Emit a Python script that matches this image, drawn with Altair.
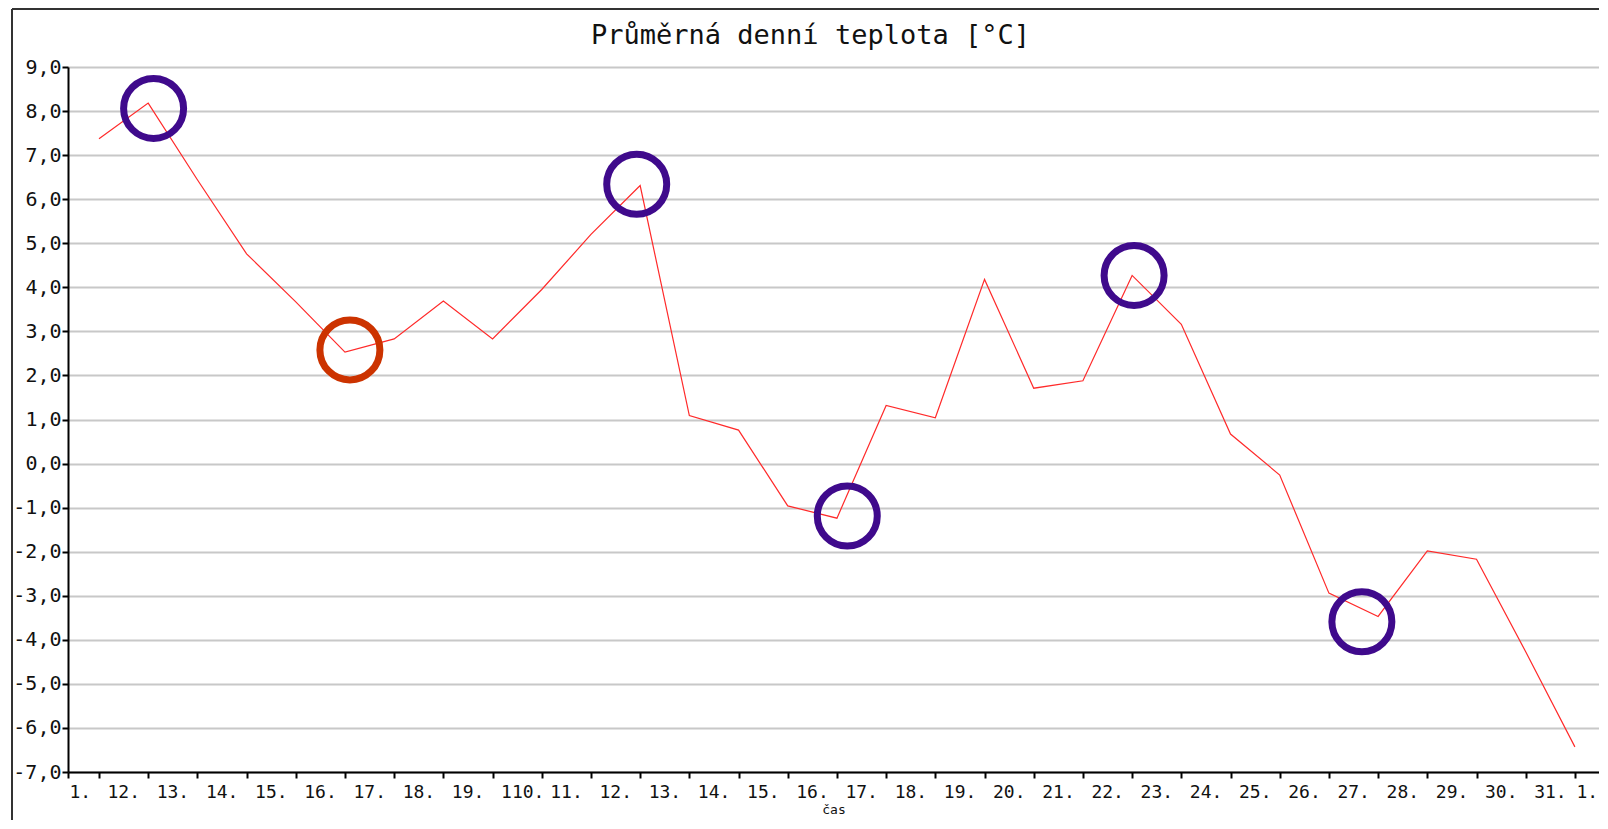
import json
import altair as alt
import pandas as pd

# ---- data ----
days = list(range(1, 32))
temps = [7.37, 8.18, 6.44, 4.76, 3.67, 2.53, 2.83, 3.69, 2.83, 3.95,
         5.20, 6.31, 1.09, 0.76, -0.96, -1.24, 1.32, 1.04, 4.18, 1.71,
         1.88, 4.27, 3.16, 0.67, -0.26, -2.94, -3.47, -1.98, -2.17, -4.27,
         -6.43]

# tick labels as they appear (first one sits at the axis start)
x_label_texts = ["1.", "12.", "13.", "14.", "15.", "16.", "17.", "18.", "19.",
                 "110.", "11.", "12.", "13.", "14.", "15.", "16.", "17.", "18.",
                 "19.", "20.", "21.", "22.", "23.", "24.", "25.", "26.", "27.",
                 "28.", "29.", "30.", "31.", "1."]
y_ticks = list(range(-7, 10))

# hand-drawn annotation circles
circle_days = [2.11, 11.93, 16.21, 22.04, 26.67, 6.10]
circle_vals = [8.06, 6.34, -1.19, 4.27, -3.59, 2.58]
circle_kind = ["fialová", "fialová", "fialová", "fialová", "fialová", "oranžová"]

title_text = "Průměrná denní teplota [°C]"
x_title = "čas"

df = pd.DataFrame({"day": days, "temp": temps})
dc = pd.DataFrame({"day": circle_days, "temp": circle_vals, "kind": circle_kind})

MONO = "DejaVu Sans Mono"
x_start = days[0] - 0.63
x_end = days[-1] + 0.49

xscale = alt.Scale(domain=[x_start, x_end], nice=False, zero=False)
yscale = alt.Scale(domain=[min(y_ticks), max(y_ticks)], nice=False, zero=False)

label_expr = f"{json.dumps(x_label_texts)}[datum.value < 1 ? 0 : datum.value]"

x_axis = alt.Axis(
    values=[x_start] + days,
    labelExpr=label_expr,
    labelFont=MONO, labelFontSize=18, labelColor="#111",
    labelAlign="left", labelBaseline="top", labelPadding=5,
    labelOffset={"condition": {"test": "datum.value < 1 || datum.value > 30",
                               "value": 1}, "value": 8},
    labelOverlap=False, labelFlush=False,
    domainColor="#000", domainWidth=2,
    tickColor="#000", tickWidth=2, tickSize=6,
    grid=False,
    titleFont=MONO, titleFontSize=13, titleFontWeight="normal", titleColor="#111",
    titlePadding=2,
)
y_axis = alt.Axis(
    values=y_ticks,
    labelExpr="(datum.value < 0 ? '-' : '') + replace(format(abs(datum.value), '.1f'), '.', ',')",
    labelFont=MONO, labelFontSize=20, labelColor="#111", labelPadding=1,
    domainColor="#000", domainWidth=2,
    tickColor="#000", tickWidth=2, tickSize=6,
    grid=True, gridColor="#c8c8c8", gridWidth=2,
    title=None,
)

line = alt.Chart(df).mark_line(color="#ff2a2a", strokeWidth=1.2).encode(
    x=alt.X("day:Q", scale=xscale, axis=x_axis, title=x_title),
    y=alt.Y("temp:Q", scale=yscale, axis=y_axis),
)

circles = alt.Chart(dc).mark_point(shape="circle", filled=False, size=3600,
                                   strokeWidth=7, opacity=1).encode(
    x=alt.X("day:Q", scale=xscale),
    y=alt.Y("temp:Q", scale=yscale),
    color=alt.Color("kind:N", scale=alt.Scale(domain=["fialová", "oranžová"],
                                              range=["#3f0a8c", "#cc3300"]),
                    legend=None),
)

frame_src = pd.DataFrame({"f": [0]})
frame_left = alt.Chart(frame_src).mark_rule(color="#333", strokeWidth=2).encode(
    x=alt.value(-56), y=alt.value(-58), y2=alt.value(800))
frame_top = alt.Chart(frame_src).mark_rule(color="#333", strokeWidth=2).encode(
    x=alt.value(-56), x2=alt.value(1600), y=alt.value(-58))

chart = alt.layer(line, circles, frame_left, frame_top).properties(
    width=1531, height=705,
    autosize="none",
    padding={"left": 60, "top": 59, "right": 0, "bottom": 48},
    title=alt.Title(title_text, font=MONO, fontSize=27, fontWeight="normal",
                    color="#111", anchor="middle", dx=-23, offset=-42),
).configure_view(stroke="#444", strokeWidth=2).configure(background="#ffffff")

chart.save("out.html", embed_options={"renderer": "svg", "actions": False})
